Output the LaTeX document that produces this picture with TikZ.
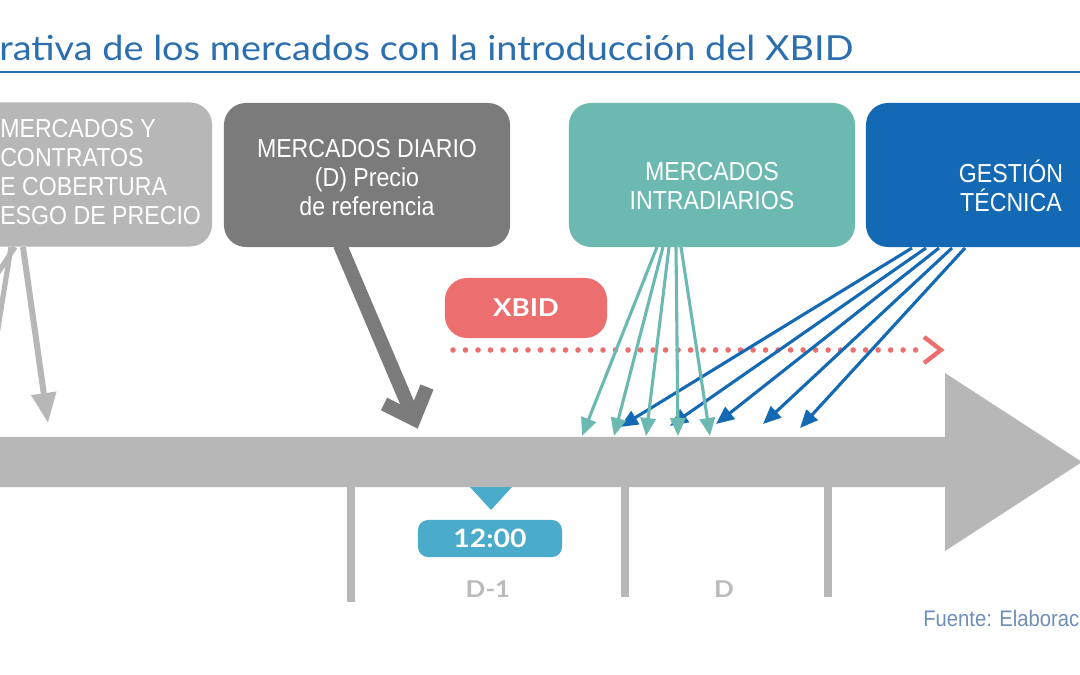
\documentclass[tikz,border=0pt]{standalone}
\usepackage{fontspec}
\setmainfont{Liberation Sans}
\newfontfamily\titlefont[FakeStretch=1.1]{Lato}
\newfontfamily\boldlabel[FakeStretch=1.12]{Lato}
\newfontfamily\boxfont[FakeStretch=0.89]{Liberation Sans}
\newfontfamily\fuentefont[FakeStretch=0.9]{Liberation Sans}
\usetikzlibrary{arrows.meta}
\definecolor{titleblue}{HTML}{2C6FB0}
\definecolor{lgray}{HTML}{B7B7B7}
\definecolor{dgray}{HTML}{7B7B7C}
\definecolor{teal2}{HTML}{6BB9B1}
\definecolor{blue2}{HTML}{1469B4}
\definecolor{red2}{HTML}{EC6E6E}
\definecolor{sky2}{HTML}{4AABCB}
\definecolor{lbl}{HTML}{BBBBBB}
\definecolor{fuente}{HTML}{6E8FB8}
\tikzset{
  mbox/.style={rounded corners=0.55cm, minimum width=7.15cm, minimum height=3.6cm, inner sep=0pt},
  btext/.style={text=white, font=\boxfont\fontsize{18.5}{20.6}\selectfont, align=center, inner sep=0pt},
  tealarrow/.style={draw=teal2, line width=2.2pt, -{Triangle[length=0.45cm,width=0.38cm]}},
  bluearrow/.style={draw=blue2, line width=2.2pt, -{Triangle[length=0.45cm,width=0.38cm]}},
  grayline/.style={draw=lgray, line width=0.15cm},
}
\begin{document}
\begin{tikzpicture}[x=0.025cm,y=-0.025cm]
\useasboundingbox (0,0) rectangle (1080,675);
\clip (0,0) rectangle (1080,675);
\fill[white] (0,0) rectangle (1080,675);

% title
\node[anchor=base west, inner sep=0pt, text=titleblue, font=\titlefont\fontsize{24.5}{28}\selectfont] (title) at (-1,61) {rativa de los mercados con la introducción del XBID};
\draw[titleblue, line width=0.06cm] (0,72) -- (1080,72);

% boxes
\node[mbox, fill=lgray] (b1) at (69,174.5) {};
\node[btext, anchor=west, align=left] (b1t) at (0,172) {MERCADOS Y\\CONTRATOS\\E COBERTURA\\ESGO DE PRECIO};
\node[mbox, fill=dgray] (b2) at (367,175) {};
\node[btext] (b2t) at (367,178) {MERCADOS DIARIO\\(D) Precio\\de referencia};
\node[mbox, fill=teal2] (b3) at (712,175) {};
\node[btext] (b3t) at (712,186) {MERCADOS\\INTRADIARIOS};
\node[mbox, fill=blue2] (b4) at (1009,175) {};
\node[btext] (b4t) at (1011,186) {GESTIÓN\\TÉCNICA};

% main timeline arrow
\fill[lgray] (-5,437) -- (945,437) -- (945,373) -- (1082,462) -- (945,551) -- (945,487) -- (-5,487) -- cycle;
\draw[grayline, line width=0.2cm] (351,487) -- (351,602);
\draw[grayline, line width=0.2cm] (625,487) -- (625,597);
\draw[grayline, line width=0.2cm] (828,487) -- (828,597);

% XBID
\node[fill=red2, rounded corners=0.55cm, minimum width=4.05cm, minimum height=1.5cm, inner sep=0pt, text=white, font=\boldlabel\bfseries\fontsize{17.5}{20}\selectfont] (xbid) at (526,308) {XBID};
\coordinate (dotA) at (453,350);
\coordinate (dotB) at (918,350);
\draw[red2, line width=0.14cm, line cap=round, dash pattern=on 0pt off 0.3125cm] (dotA) -- (dotB);
\coordinate (chevA) at (924,337);
\coordinate (chevT) at (941,350);
\coordinate (chevB) at (924,363);
\draw[red2, line width=0.11cm] (chevA) -- (chevT) -- (chevB);

% light gray arrows from box 1
\coordinate (g1s) at (23,247);
\coordinate (g1e) at (48,423);
\draw[grayline, -{Triangle[length=0.75cm,width=0.6cm]}] (g1s) -- (g1e);
\coordinate (g2s) at (11,247);
\coordinate (g2e) at (-20,440);
\draw[grayline, line width=0.13cm] (g2s) -- (g2e);
\coordinate (g3s) at (15,247);
\coordinate (g3e) at (-40,330);
\draw[grayline, line width=0.13cm] (g3s) -- (g3e);

% dark gray arrow from box 2
\coordinate (d0) at (340,245);
\coordinate (dT) at (414,419);
\coordinate (dA) at (384,404);
\coordinate (dB) at (427,387);
\draw[dgray, line width=0.35cm] (d0) -- (dT);
\draw[dgray, line width=0.35cm, miter limit=10] (dA) -- (dT) -- (dB);

% blue arrows
\foreach \i/\sx/\ex/\ey in {1/912/620/427, 2/926/670/426, 3/939/716/424, 4/952/763/424, 5/965/800/428}{
  \coordinate (bs\i) at (\sx,248);
  \coordinate (be\i) at (\ex,\ey);
  \draw[bluearrow] (bs\i) -- (be\i);
}
% teal arrows
\foreach \i/\sx/\ex in {1/657/582, 2/663/614, 3/669/646, 4/676/678, 5/681/710}{
  \coordinate (ts\i) at (\sx,247);
  \coordinate (te\i) at (\ex,436);
  \draw[tealarrow] (ts\i) -- (te\i);
}

% 12:00 marker
\fill[sky2] (470,487) -- (512,487) -- (491,510) -- cycle;
\node[fill=sky2, rounded corners=0.25cm, minimum width=3.6cm, minimum height=0.925cm, inner sep=0pt, text=white, font=\boldlabel\bfseries\fontsize{18}{20}\selectfont] (noon) at (490,538.5) {12:00};

% day labels
\node[text=lbl, font=\boldlabel\bfseries\fontsize{16.5}{18}\selectfont, inner sep=0pt] (dm1) at (488,589) {D-1};
\node[text=lbl, font=\boldlabel\bfseries\fontsize{16.5}{18}\selectfont, inner sep=0pt] (dd) at (724,589) {D};

% source
\node[anchor=west, text=fuente, font=\fuentefont\fontsize{16}{19}\selectfont, inner sep=0pt] (src) at (923,618) {Fuente: Elaborac};
\end{tikzpicture}
\end{document}
